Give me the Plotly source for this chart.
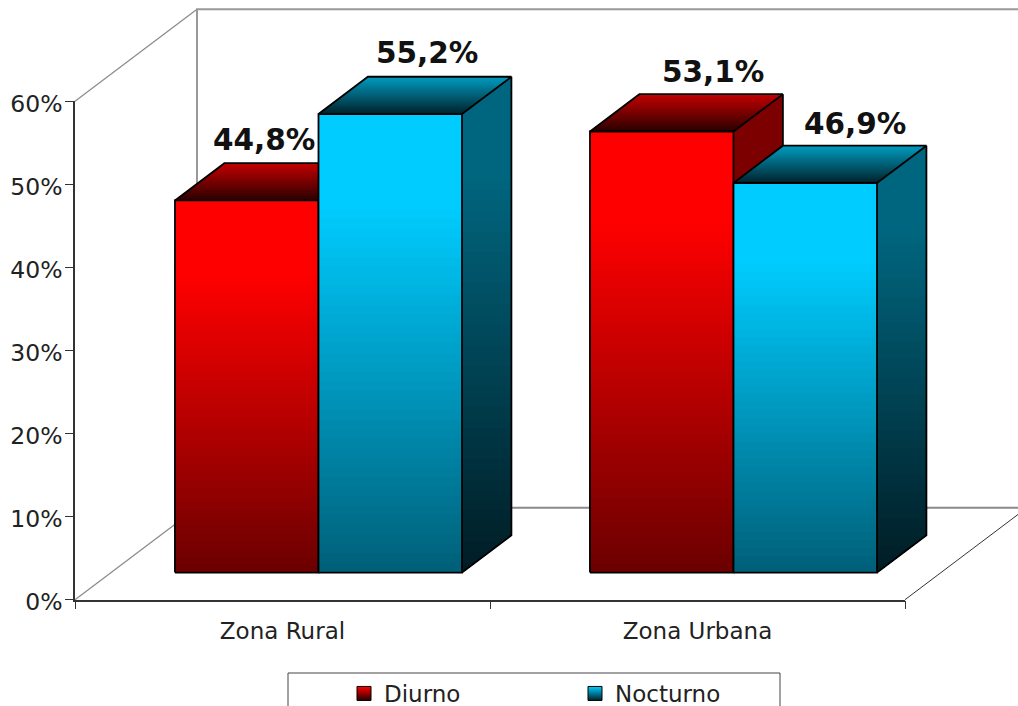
import plotly.graph_objects as go

# ---- data ----
categories = ["Zona Rural", "Zona Urbana"]
series_names = ["Diurno", "Nocturno"]
diurno = [44.8, 53.1]
nocturno = [55.2, 46.9]
y_ticks = [0, 10, 20, 30, 40, 50, 60]
y_tick_labels = ["0%", "10%", "20%", "30%", "40%", "50%", "60%"]
value_labels_diurno = ["44,8%", "53,1%"]
value_labels_nocturno = ["55,2%", "46,9%"]

# ---- style / geometry ----
W, H = 1018, 706
AX_L, AX_R, AX_T, AX_B = 75, 905, 101.3, 599.7   # front axes box, in page pixels
PX_X = (AX_R - AX_L) / 2          # px per category
PX_Y = (AX_B - AX_T) / 60         # px per percent
DX, DY = 122 / PX_X, 92 / PX_Y    # full depth offset, in data units
D0, D1 = 0.295, 0.70              # bars' depth span
BAR = 0.3458
GAP = (1 - 2 * BAR) / 2
FONT = "DejaVu Sans"
FLAT = 0.2                        # share of a front/side face that keeps the top colour
RED = dict(front=("#ff0000", "#6a0000"), top=("#c40000", "#2a0000"), side=("#7d0000", "#1c0000"))
BLUE = dict(front=("#00ccff", "#005f78"), top=("#009cc0", "#00222c"), side=("#00667f", "#001c24"))
LABEL_SHIFTS = {"Diurno": [(17, 60), (51, 59)], "Nocturno": [(37, 61), (50, 59)]}


def proj(x, y, d):
    return (x + d * DX, y + d * DY)


def lerp(c0, c1, t):
    a = [int(c0[i:i + 2], 16) for i in (1, 3, 5)]
    b = [int(c1[i:i + 2], 16) for i in (1, 3, 5)]
    return "rgb(%d,%d,%d)" % tuple(round(p + (q - p) * t) for p, q in zip(a, b))


def clip_below(poly, level):
    out = []
    for i, p in enumerate(poly):
        q = poly[(i + 1) % len(poly)]
        pin, qin = p[1] <= level, q[1] <= level
        if pin:
            out.append(p)
        if pin != qin:
            t = (level - p[1]) / (q[1] - p[1])
            out.append((p[0] + (q[0] - p[0]) * t, level))
    return out


def face(fig, poly, colors, n, flat=0.0):
    ys = [p[1] for p in poly]
    hi, lo = max(ys), min(ys)
    for k in range(n):
        level = hi - (hi - lo) * k / n
        part = clip_below(poly, level)
        if len(part) < 3:
            continue
        t = max(0.0, ((k + 0.5) / n - flat) / (1 - flat))
        fig.add_trace(go.Scatter(
            x=[p[0] for p in part] + [part[0][0]],
            y=[p[1] for p in part] + [part[0][1]],
            mode="lines", line=dict(width=0), fill="toself",
            fillcolor=lerp(colors[0], colors[1], t),
            showlegend=False, hoverinfo="skip"))


def polyline(fig, pts, color, width):
    fig.add_trace(go.Scatter(
        x=[p[0] if p else None for p in pts], y=[p[1] if p else None for p in pts],
        mode="lines", line=dict(color=color, width=width),
        showlegend=False, hoverinfo="skip"))


def bar3d(fig, x0, x1, v, pal):
    a = proj(x0, 0, D0); b = proj(x1, 0, D0)
    c = proj(x1, v, D0); d = proj(x0, v, D0)
    e = proj(x0, v, D1); f = proj(x1, v, D1); g = proj(x1, 0, D1)
    face(fig, [b, g, f, c], pal["side"], 48, FLAT)
    face(fig, [d, c, f, e], pal["top"], 20)
    face(fig, [a, b, c, d], pal["front"], 48, FLAT)
    polyline(fig, [a, b, c, d, a, None, d, e, f, c, None, f, g, b], "#000000", 1.8)


fig = go.Figure()

# walls and floor
polyline(fig, [proj(0, 60, 0), proj(0, 60, 1)], "#8a8a8a", 1.2)
polyline(fig, [proj(0, 0, 0), proj(0, 0, 1)], "#8a8a8a", 1.2)
polyline(fig, [proj(0, 0, 1), proj(0, 60, 1), proj(2.2, 60, 1)], "#999999", 2)
polyline(fig, [proj(0, 0, 1), proj(2.2, 0, 1)], "#8a8a8a", 2)
polyline(fig, [proj(2, 0, 0), proj(2, 0, 1)], "#333333", 1)

annotations = []
for i in range(len(categories)):
    x0 = i + GAP
    bar3d(fig, x0, x0 + BAR, diurno[i], RED)
    bar3d(fig, x0 + BAR, x0 + 2 * BAR, nocturno[i], BLUE)
    for name, val, txt, xa in (
        ("Diurno", diurno[i], value_labels_diurno[i], x0 + BAR / 2),
        ("Nocturno", nocturno[i], value_labels_nocturno[i], x0 + 1.5 * BAR),
    ):
        cx, cy = proj(xa, val, D0)
        sx, sy = LABEL_SHIFTS[name][i]
        annotations.append(dict(x=cx, y=cy, text=txt, showarrow=False, xshift=sx, yshift=sy,
                                font=dict(family=FONT, size=29.5, color="#111111", weight="bold")))

# legend entries
for name, pal in zip(series_names, (RED, BLUE)):
    fig.add_trace(go.Scatter(
        x=[None], y=[None], mode="markers", name=name,
        marker=dict(symbol="square", size=14, color=pal["front"][0],
                    gradient=dict(type="vertical", color=pal["top"][1]),
                    line=dict(color="#000000", width=1))))

# carrier for the visible axes
fig.add_trace(go.Scatter(x=[None], y=[None], xaxis="x2", yaxis="y2", showlegend=False, hoverinfo="skip"))

fig.update_layout(
    width=W, height=H, autosize=False,
    margin=dict(l=0, r=0, t=0, b=0, autoexpand=False),
    paper_bgcolor="white", plot_bgcolor="rgba(0,0,0,0)",
    font=dict(family=FONT, color="#222222"),
    # full-page drawing axes, same scale as the visible axes
    xaxis=dict(domain=[0, 1], range=[-AX_L / PX_X, (W - AX_L) / PX_X], visible=False),
    yaxis=dict(domain=[0, 1], range=[-(H - AX_B) / PX_Y, AX_B / PX_Y], visible=False),
    xaxis2=dict(domain=[AX_L / W, AX_R / W], anchor="y2", range=[0, 2],
                tickmode="array", tickvals=[0.5, 1.5], ticktext=categories,
                ticks="", showgrid=False, zeroline=False, showline=True, linecolor="#333333",
                linewidth=1.5, ticklabelstandoff=10, tickfont=dict(size=23, family=FONT),
                minor=dict(tickmode="array", tickvals=[0, 1, 2], ticks="outside", ticklen=8,
                           tickcolor="#333333", tickwidth=1, showgrid=False)),
    yaxis2=dict(domain=[1 - AX_B / H, 1 - AX_T / H], anchor="x2", range=[0, 60],
                tickmode="array", tickvals=y_ticks, ticktext=y_tick_labels,
                ticks="outside", ticklen=8, tickcolor="#333333", showgrid=False, zeroline=False,
                showline=True, linecolor="#333333", linewidth=1.5, ticklabelstandoff=-2,
                ticklabelshift=2, tickfont=dict(size=23.5, family=FONT)),
    showlegend=True,
    legend=dict(orientation="h", x=344 / W, xanchor="left",
                y=1 - 672 / H, yanchor="top",
                entrywidth=186, entrywidthmode="pixels", itemclick=False, itemdoubleclick=False,
                bgcolor="rgba(0,0,0,0)", font=dict(size=23, family=FONT, color="#222222")),
    shapes=[dict(type="rect", xref="paper", yref="paper",
                 x0=288 / W, x1=780 / W, y0=1 - 673 / H, y1=1 - 730 / H,
                 line=dict(color="#444444", width=1), fillcolor="white", layer="below")],
    annotations=annotations,
)

fig.write_html("out.html", config=dict(displayModeBar=False),
               post_script="document.body.style.margin='0';document.body.style.overflow='hidden';")
